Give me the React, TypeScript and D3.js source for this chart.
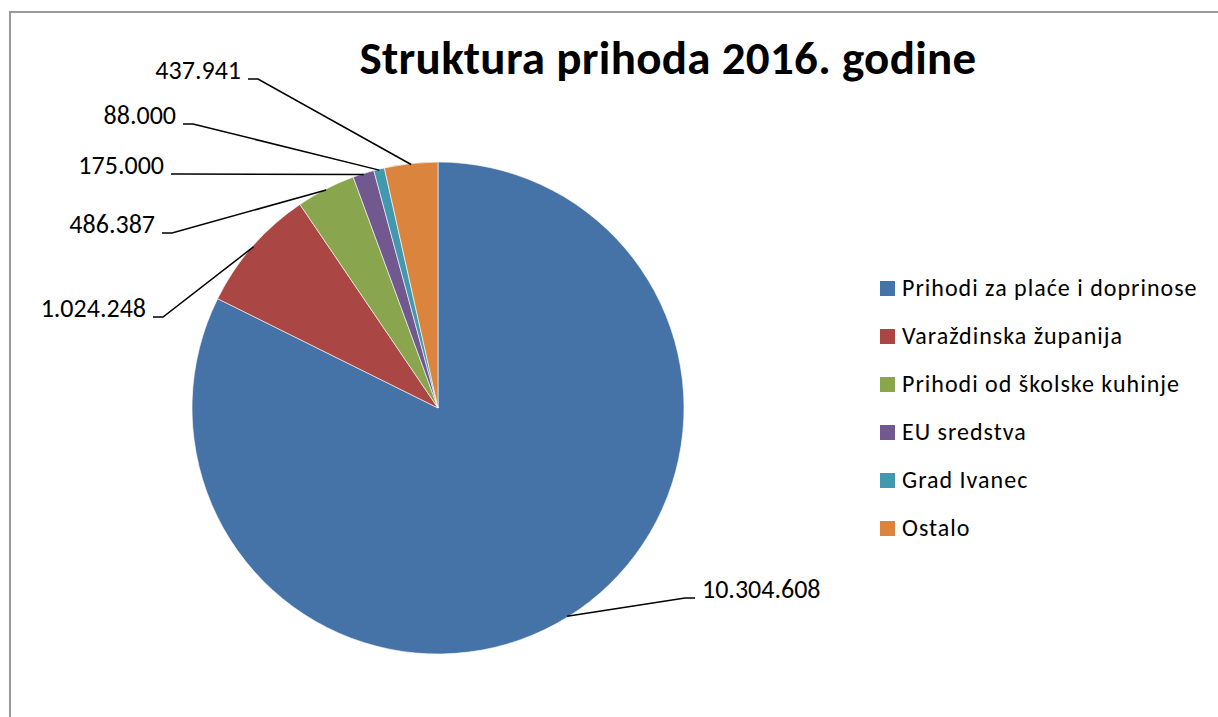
import React from "react";
import * as d3 from "d3";

const categories = [
  "Prihodi za plaće i doprinose",
  "Varaždinska županija",
  "Prihodi od školske kuhinje",
  "EU sredstva",
  "Grad Ivanec",
  "Ostalo",
];
const values = [10304608, 1024248, 486387, 175000, 88000, 437941];
const colors = ["#4572A7", "#AA4643", "#89A54E", "#71588F", "#4198AF", "#DB843D"];
const title = "Struktura prihoda 2016. godine";

// layout: elbow point of each leader line and label side
const labelElbows: [number, number, "start" | "end"][] = [
  [685, 598, "start"],
  [163, 317, "end"],
  [172, 233, "end"],
  [181, 174, "end"],
  [193, 124, "end"],
  [258, 79, "end"],
];

const FONT = "Carlito, Calibri, Lato, 'Open Sans', sans-serif";

export default function App() {
  const W = 1218, H = 717;
  const cx = 438, cy = 408, R = 246;
  const locale = d3.formatLocale({ decimal: ",", thousands: ".", grouping: [3], currency: ["", ""] });
  const fmt = locale.format(",");
  const pie = d3.pie<number>().sort(null).value((d) => d).startAngle(0).endAngle(2 * Math.PI);
  const arcs = pie(values);
  const arc = d3.arc<d3.PieArcDatum<number>>().innerRadius(0).outerRadius(R);
  const edge = d3.arc<d3.PieArcDatum<number>>().innerRadius(R - 1).outerRadius(R - 1);
  const legendY = d3.scalePoint<string>().domain(categories).range([288, 528]);

  return (
    <svg width={W} height={H} style={{ position: "absolute", left: 0, top: 0, display: "block" }}>
      <rect x={0} y={0} width={W} height={H} fill="#fff" />
      <rect x={10} y={12} width={1300} height={800} fill="none" stroke="#9a9a9a" strokeWidth={2} />
      <text x={668} y={74} textAnchor="middle" fontFamily={FONT} fontWeight="bold" fontSize={47} letterSpacing={0.3} fill="#000">
        {title}
      </text>
      <g transform={`translate(${cx},${cy})`}>
        {arcs.map((a, i) => (
          <path key={i} d={arc(a) || ""} fill={colors[i]} stroke="#ffffff" strokeWidth={0.6} />
        ))}
      </g>
      {arcs.map((a, i) => {
        const [px, py] = edge.centroid(a);
        const [ex, ey, side] = labelElbows[i];
        const dir = side === "start" ? 1 : -1;
        const hx = ex + dir * 10;
        const tx = hx + dir * 7;
        return (
          <g key={i}>
            <polyline
              points={`${cx + px},${cy + py} ${ex},${ey} ${hx},${ey}`}
              fill="none"
              stroke="#000"
              strokeWidth={1.5}
            />
            <text x={tx} y={ey} textAnchor={side} fontFamily={FONT} fontSize={26} fill="#000">
              {fmt(values[i])}
            </text>
          </g>
        );
      })}
      {categories.map((c, i) => {
        const y = legendY(c) as number;
        return (
          <g key={c}>
            <rect x={880} y={y - 7} width={15} height={15} fill={colors[i]} />
            <text x={902} y={y + 8} fontFamily={FONT} fontSize={24} letterSpacing={1} fill="#000">
              {c}
            </text>
          </g>
        );
      })}
    </svg>
  );
}
